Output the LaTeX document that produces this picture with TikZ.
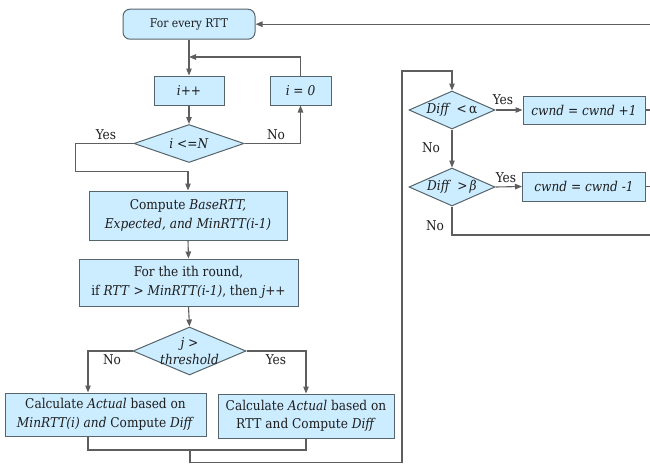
\documentclass[tikz,border=0pt]{standalone}
\usepackage{fontspec}
\setmainfont{DejaVu Serif Condensed}
\usetikzlibrary{shapes.geometric,arrows.meta}
\definecolor{boxfill}{HTML}{CCECFF}
\definecolor{boxline}{HTML}{56646B}
\definecolor{conn}{HTML}{5E5E5E}
\definecolor{txtc}{HTML}{1E1E1E}
\tikzset{
  base/.style={draw=boxline, line width=1pt, fill=boxfill, inner sep=0pt, text=txtc,
    align=center, font=\fontsize{13.5}{18.5}\selectfont},
  procbox/.style={base, rectangle},
  startbox/.style={base, rectangle, rounded corners=7pt, font=\fontsize{12}{16}\selectfont},
  decbox/.style={base, diamond},
  dtext/.style={inner sep=0pt, text=txtc, align=center, font=\fontsize{13.5}{17}\selectfont},
  lbl/.style={inner sep=0pt, text=txtc, font=\fontsize{13.5}{17}\selectfont},
  line/.style={draw=conn, line width=1.1pt},
  arr/.style={line, -{Triangle[length=7pt,width=5.5pt]}},
}
\begin{document}
\begin{tikzpicture}[x=1pt,y=-1pt]
\useasboundingbox (0,0) rectangle (650,464);
% nodes
\node[startbox, minimum width=132pt, minimum height=30pt] (top) at (189,24.2) {For every RTT};
\node[procbox, minimum width=70pt, minimum height=29pt] (ipp) at (189,90.5) {\textit{i}++};
\node[procbox, minimum width=61pt, minimum height=29pt] (izero) at (300.5,90.5) {\textit{i} = \textit{0}};
\node[decbox, minimum width=110pt, minimum height=38pt] (d1) at (189,143.5) {};
\node[dtext] at (d1) {\textit{i} <=\textit{N}};
\node[procbox, minimum width=198pt, minimum height=49pt] (comp) at (188,215.5)
  {Compute \textit{BaseRTT,}\\\textit{Expected, and MinRTT(i-1)}};
\node[procbox, minimum width=219pt, minimum height=47pt] (ith) at (188.5,282.5)
  {For the ith round,\\if \textit{RTT} > \textit{MinRTT(i-1)}, then \textit{j}++};
\node[decbox, minimum width=113pt, minimum height=48pt] (d2) at (189.5,351) {};
\node[dtext] at (d2) {\textit{j} >\\\textit{threshold}};
\node[procbox, minimum width=201pt, minimum height=43pt] (calc1) at (105.5,414.5)
  {Calculate \textit{Actual} based on\\\textit{MinRTT(i) and} Compute \textit{Diff}};
\node[procbox, minimum width=176pt, minimum height=44pt] (calc2) at (306,416)
  {Calculate \textit{Actual} based on\\RTT and Compute \textit{Diff}};
\node[decbox, minimum width=86pt, minimum height=38pt] (da) at (452,110) {};
\node[dtext] at (da) {\textit{Diff}\,\ <\,α};
\node[procbox, minimum width=122pt, minimum height=28pt] (inc) at (584,110)
  {\textit{cwnd} = \textit{cwnd} +\textit{1}};
\node[decbox, minimum width=86pt, minimum height=38pt] (db) at (452,187) {};
\node[dtext] at (db) {\textit{Diff}\,\ >\,\textit{β}};
\node[procbox, minimum width=123pt, minimum height=29pt] (dec) at (584,186.5)
  {\textit{cwnd} = \textit{cwnd} -\textit{1}};
% labels
\node[lbl] (l1) at (106,135) {Yes};
\node[lbl] (l2) at (276,135) {No};
\node[lbl] (l3) at (112,360) {No};
\node[lbl] (l4) at (276,360) {Yes};
\node[lbl] (l5) at (503,100) {Yes};
\node[lbl] (l6) at (431,148) {No};
\node[lbl] (l7) at (506,178) {Yes};
\node[lbl] (l8) at (435,226) {No};
% coordinates
\coordinate (rtop) at (650,24.2);
\coordinate (join) at (189,57);
\coordinate (j1) at (190,450);
\coordinate (b1) at (190,462.5);
\coordinate (b2) at (402,71);
\coordinate (rinc) at (650,110);
\coordinate (rdec) at (650,186.5);
\coordinate (rno) at (650,235);
% connectors
\draw[arr] (rtop) -- (top.east);
\draw[arr] (top.south) -- (ipp.north);
\draw[arr] (ipp.south) -- (d1.north);
\draw[arr] (d1.west) -- ++(-58,0) -- ++(0,28) -| (comp.north);
\draw[arr] (d1.east) -| (izero.south);
\draw[arr] (izero.north) |- (join);
\draw[arr] (comp.south) -- (ith.north);
\draw[arr] (ith.south) -- (d2.north);
\draw[arr] (d2.west) -| ([xshift=-17.5pt]calc1.north);
\draw[arr] (d2.east) -| (calc2.north);
\draw[line] ([xshift=-17.5pt]calc1.south) |- (j1) -| (calc2.south);
\draw[arr] (j1) -- (b1) -| (b2) -| (da.north);
\draw[arr] (da.east) -- (inc.west);
\draw[arr] (da.south) -- (db.north);
\draw[arr] (db.east) -- (dec.west);
\draw[line] (inc.east) -- (rinc);
\draw[line] (dec.east) -- (rdec);
\draw[line] (db.south) |- (rno);
\end{tikzpicture}
\end{document}
